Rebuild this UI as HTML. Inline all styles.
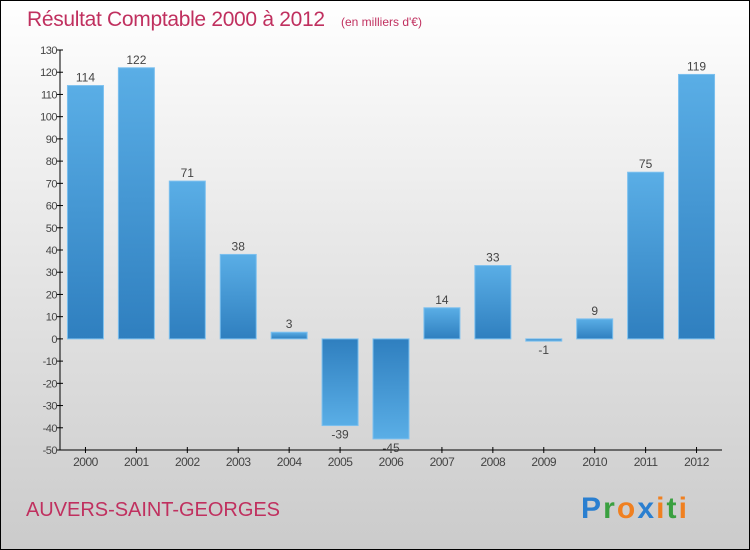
<!DOCTYPE html>
<html><head><meta charset="utf-8"><style>
body{margin:0;width:750px;height:550px;overflow:hidden;font-family:"Liberation Sans",sans-serif}
#wrap{position:absolute;left:0;top:0;width:748px;height:548px;border:1px solid #000;background:linear-gradient(#fff,#f4f4f4 20%,#cbcbcb)}
</style></head><body>
<div id="wrap">
<svg id="chart" width="750" height="550" style="position:absolute;left:-1px;top:-1px">
<defs>
<linearGradient id="gp" x1="0" y1="0" x2="0" y2="1"><stop offset="0" stop-color="#5aaee6"/><stop offset="1" stop-color="#2f7fbf"/></linearGradient>
<linearGradient id="gn" x1="0" y1="0" x2="0" y2="1"><stop offset="0" stop-color="#2f7fbf"/><stop offset="1" stop-color="#5aaee6"/></linearGradient>
</defs>
<text x="27" y="26" font-size="21" fill="#c0305f"><tspan textLength="298">Résultat Comptable 2000 à 2012</tspan><tspan font-size="12" x="341">(en milliers d'€)</tspan></text>
<g id="axes"></g><g id="bars"></g>
<text x="26" y="516" font-size="20" fill="#c0305f" textLength="254">AUVERS-SAINT-GEORGES</text>
<text x="581" y="518" font-size="30" font-weight="bold" textLength="106"><tspan fill="#2a7fd0">P</tspan><tspan fill="#3aa040">r</tspan><tspan fill="#f08020">o</tspan><tspan fill="#2a7fd0">x</tspan><tspan fill="#f08020">i</tspan><tspan fill="#3aa040">t</tspan><tspan fill="#f08020">i</tspan></text>
</svg></div>
<script>
const categories=["2000","2001","2002","2003","2004","2005","2006","2007","2008","2009","2010","2011","2012"];
const values=[114,122,71,38,3,-39,-45,14,33,-1,9,75,119];
const yTicks=[130,120,110,100,90,80,70,60,50,40,30,20,10,0,-10,-20,-30,-40,-50];
const NS="http://www.w3.org/2000/svg";
const x0=60,x1=722,yTop=50,yBot=450,vMin=-50,vMax=130;
const y=v=>yBot-(v-vMin)/(vMax-vMin)*(yBot-yTop);
const bw=(x1-x0)/categories.length;
const xc=i=>x0+bw*(i+0.5);
function mk(t,a,p){const e=document.createElementNS(NS,t);for(const k in a)e.setAttribute(k,a[k]);p.appendChild(e);return e;}
const ax=document.getElementById('axes'),bg=document.getElementById('bars');
const yl=mk('line',{x1:x0,y1:yTop,x2:x0,y2:yBot,stroke:'#000'},ax);


const xl=mk('line',{x1:x0,y1:yBot,x2:x1,y2:yBot,stroke:'#000'},ax);


yTicks.forEach(v=>{
 mk('line',{x1:x0-3,y1:y(v),x2:x0+3,y2:y(v),stroke:'#000'},ax);
 const t=mk('text',{x:x0-3,y:y(v)+4,'text-anchor':'end','font-size':11,fill:'#444','letter-spacing':'-0.5'},ax);
 t.textContent=v;
 
 
});
categories.forEach((c,i)=>{
 mk('line',{x1:xc(i),y1:yBot-3,x2:xc(i),y2:yBot+3,stroke:'#000'},ax);
 const t=mk('text',{x:xc(i),y:yBot+16,'text-anchor':'middle','font-size':12,fill:'#444','letter-spacing':'-0.5'},ax);
 t.textContent=c;
 
 
 const v=values[i],top=Math.min(y(v),y(0)),h=Math.abs(y(v)-y(0));
 const r=mk('rect',{x:xc(i)-18,y:top,width:36,height:Math.max(h,1),fill:v>=0?'url(#gp)':'url(#gn)',stroke:'#7cc0ef','stroke-width':1},bg);
 
 
 const l=mk('text',{x:xc(i),y:v>=0?y(v)-4:y(v)+13,'text-anchor':'middle','font-size':12,fill:'#444'},bg);
 l.textContent=v;
 
 
});
</script>
</body></html>
